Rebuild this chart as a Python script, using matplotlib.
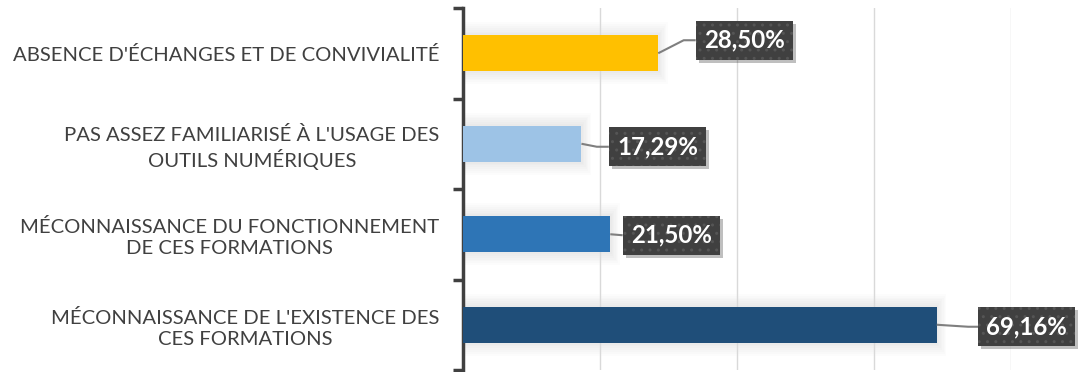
import matplotlib.pyplot as plt
from matplotlib.patches import Rectangle
from matplotlib.transforms import IdentityTransform
import numpy as np

# Survey data: obstacles to following online trainings (% of respondents)
categories = [
    "ABSENCE D'ÉCHANGES ET DE CONVIVIALITÉ",
    "PAS ASSEZ FAMILIARISÉ À L'USAGE DES\nOUTILS NUMÉRIQUES",
    "MÉCONNAISSANCE DU FONCTIONNEMENT\nDE CES FORMATIONS",
    "MÉCONNAISSANCE DE L'EXISTENCE DES\nCES FORMATIONS",
]
values = [28.50, 17.29, 21.50, 69.16]
colors = ["#FFC000", "#9DC3E6", "#2E75B6", "#1F4E79"]

# label box offsets from the bar end, in pixels (dx, dy)
label_offsets = [(86, 13), (76, -3), (61, -1), (90, -2)]
# leader line bend, in pixels from the box left edge
leader_bends = [(-12, 13), (-12, -3), (0, -1), (-10, -2)]

plt.rcParams["font.family"] = ["Lato", "DejaVu Sans"]

fig = plt.figure(figsize=(10.79, 3.72), dpi=100)
ax = fig.add_axes([463 / 1079, 2 / 372, (1011 - 463) / 1079, (364 - 2) / 372])

y = np.arange(len(categories))
# soft glow around the bars
for k in range(1, 8):
    ax.barh(y, [v + 0.4 * k for v in values], left=-0.2 * k, height=0.4 + 0.04 * k,
            color="#000000", alpha=0.011, zorder=1, linewidth=0)
ax.barh(y, values, height=0.4, color=colors, zorder=3)

ax.set_xlim(0, 80)
ax.set_ylim(len(categories) - 0.5, -0.5)
ax.set_xticks([20, 40, 60, 80])
ax.tick_params(axis="x", length=0, labelbottom=False)
ax.grid(axis="x", color="#d9d9d9", linewidth=1, zorder=0)

ax.set_yticks(y)
ax.set_yticklabels(categories, multialignment="center", linespacing=1.3,
                   fontsize=14.6, color="#404040")
ax.set_yticks(np.arange(len(categories) + 1) - 0.5, minor=True)
ax.tick_params(axis="y", which="major", length=0, pad=17)
ax.tick_params(axis="y", which="minor", length=7, width=2.5, color="#404040", direction="out")

for side in ["top", "right", "bottom"]:
    ax.spines[side].set_visible(False)
ax.spines["left"].set_color("#404040")
ax.spines["left"].set_linewidth(2.5)

fig.canvas.draw()
to_px = ax.transData
to_data = ax.transData.inverted()

for i, v in enumerate(values):
    text = f"{v:.2f}%".replace(".", ",")
    bx, by = to_px.transform((v, i))
    dx, dy = label_offsets[i]
    t = ax.annotate(text, xy=(v, i), xytext=(dx, dy), textcoords="offset pixels",
                    ha="center", va="center", fontsize=17.3, fontweight="bold", color="white",
                    bbox=dict(boxstyle="square,pad=0.34", fc="#404040", ec="#555555",
                              lw=0, hatch=".."),
                    annotation_clip=False, zorder=6)
    fig.canvas.draw()
    box = t.get_bbox_patch().get_window_extent()
    # drop shadow behind the label box
    ax.add_patch(Rectangle((box.x0 + 3, box.y0 - 3), box.width, box.height,
                           transform=IdentityTransform(), fc="#000000", ec="none",
                           alpha=0.25, zorder=4, clip_on=False))
    # leader line from the bar end to the box
    lx = box.x0
    bend_dx, bend_dy = leader_bends[i]
    pts_px = [(bx, by), (lx + bend_dx, by + bend_dy), (lx, by + bend_dy)]
    pts = to_data.transform(pts_px)
    ax.plot(pts[:, 0], pts[:, 1], color="#7f7f7f", linewidth=1.5, zorder=4,
            clip_on=False, solid_capstyle="butt")

fig.savefig("out.png", dpi=100)
